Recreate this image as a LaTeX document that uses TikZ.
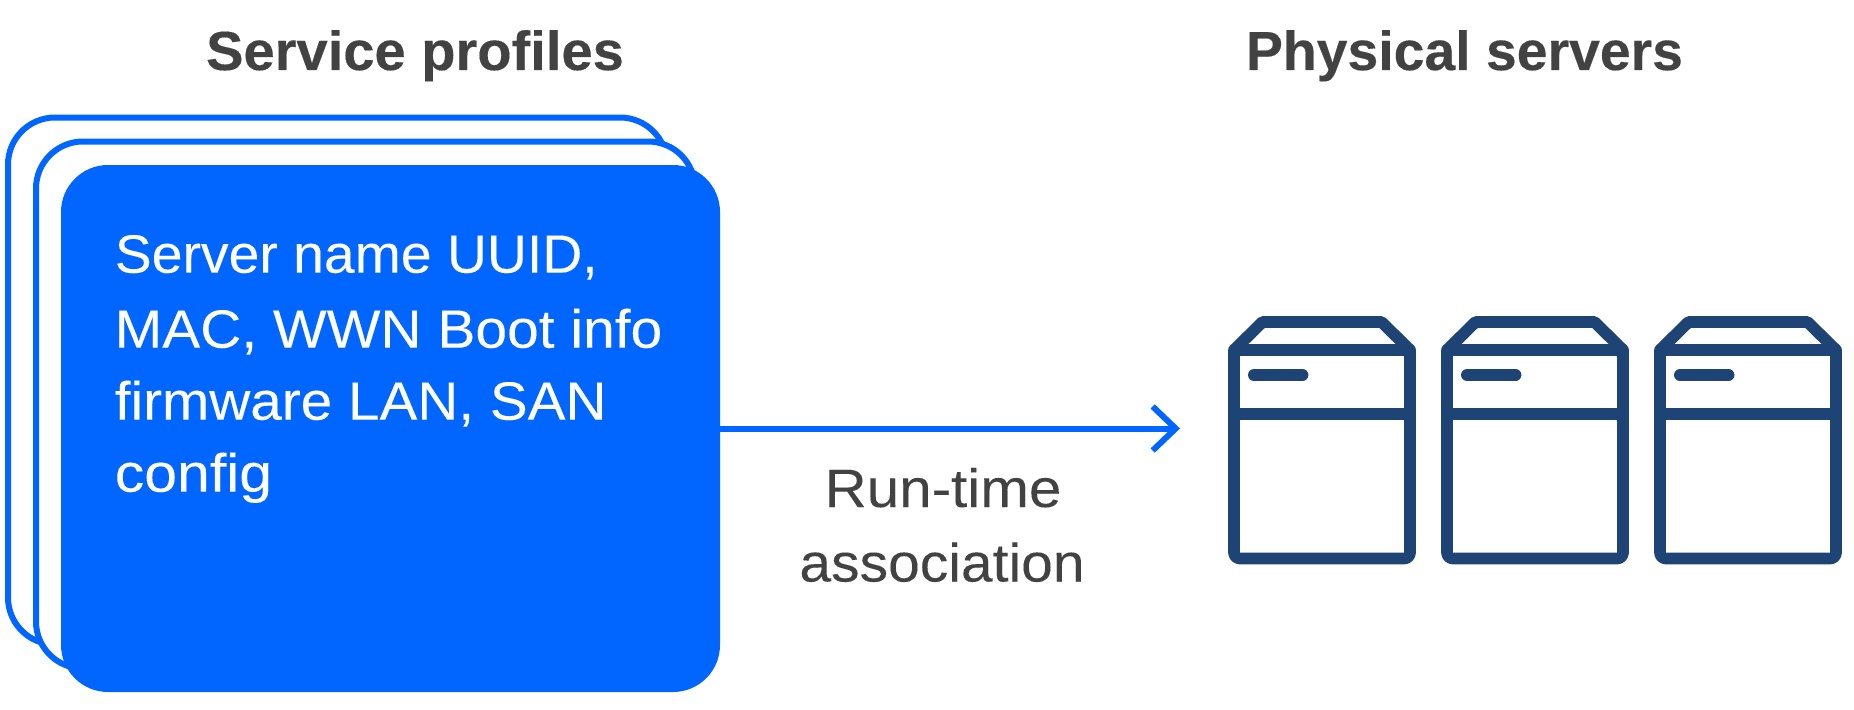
\documentclass[tikz,border=0pt]{standalone}
\usepackage{fontspec}
\usepackage{graphicx}
\setmainfont[FakeStretch=1.02,UprightFeatures={FakeBold=0.08},BoldFeatures={FakeBold=0.3}]{Liberation Sans}
\usetikzlibrary{arrows.meta}
\definecolor{sblue}{HTML}{0066FF}
\definecolor{snavy}{HTML}{1D4474}
\definecolor{sgrey}{HTML}{424242}
\newcommand{\hfit}[2]{\scalebox{#1}[1]{#2}}
\tikzset{
  x=1pt,y=-1pt,
  card/.style={draw=sblue,fill=white,line width=6pt,rounded corners=47pt,minimum width=659pt,minimum height=527pt,inner sep=0pt,outer sep=0pt},
  cardfront/.style={fill=sblue,rounded corners=47pt,minimum width=659pt,minimum height=527pt,inner sep=0pt,outer sep=0pt},
  bigtext/.style={font=\fontsize{54pt}{72pt}\selectfont,text=sgrey,inner sep=0pt,outer sep=0pt},
  titletext/.style={font=\fontsize{55pt}{66pt}\selectfont\bfseries,text=sgrey,inner sep=0pt,outer sep=0pt},
  srv/.style={draw=snavy,line width=11.7pt,line join=round},
  srvpill/.style={draw=snavy,line width=12pt,line cap=round},
  flow/.style={draw=sblue,line width=6pt,-{Straight Barb[length=23pt,width=44pt,line width=6pt,line cap=butt]}}
}
\begin{document}
\begin{tikzpicture}
\useasboundingbox (0,0) rectangle (1854,709);
\node[titletext,anchor=base] (t1) at (415,70) {Service profiles};
\node[titletext,anchor=base] (t2) at (1464.5,70) {\hfit{0.987}{Physical servers}};
\node[card] (c1) at (337.5,381) {};
\node[card] (c2) at (365.5,405) {};
\node[cardfront] (c3) at (390.5,428.5) {};
\node[bigtext,text=white,anchor=north west,align=left] (cfg) at (114.8,235) {\hfit{1.005}{Server name UUID,}\\[3pt]\hfit{1.034}{MAC, WWN Boot info}\\\hfit{1.03}{firmware LAN, SAN}\\\hfit{1.07}{config}};
\coordinate (flowend) at (1180,428.5);
\draw[flow] (c3.east) -- (flowend);
\node[bigtext,anchor=base] (rt) at (943,507) {\hfit{1.06}{Run-time}};
\node[bigtext,anchor=base] (as) at (942,581.5) {\hfit{1.035}{association}};
\foreach \dx in {0,213,426}{
  \draw[srv] (1234+\dx,350) [rounded corners=6pt] -- (1234+\dx,558.5) -- (1410+\dx,558.5) [sharp corners] -- (1410+\dx,350) -- cycle;
  \draw[srv] (1234+\dx,350) -- (1262.5+\dx,322) -- (1381.5+\dx,322) -- (1410+\dx,350);
  \draw[srv] (1234+\dx,413.7) -- (1410+\dx,413.7);
  \draw[srvpill] (1254+\dx,375) -- (1302.4+\dx,375);
}
\end{tikzpicture}
\end{document}
